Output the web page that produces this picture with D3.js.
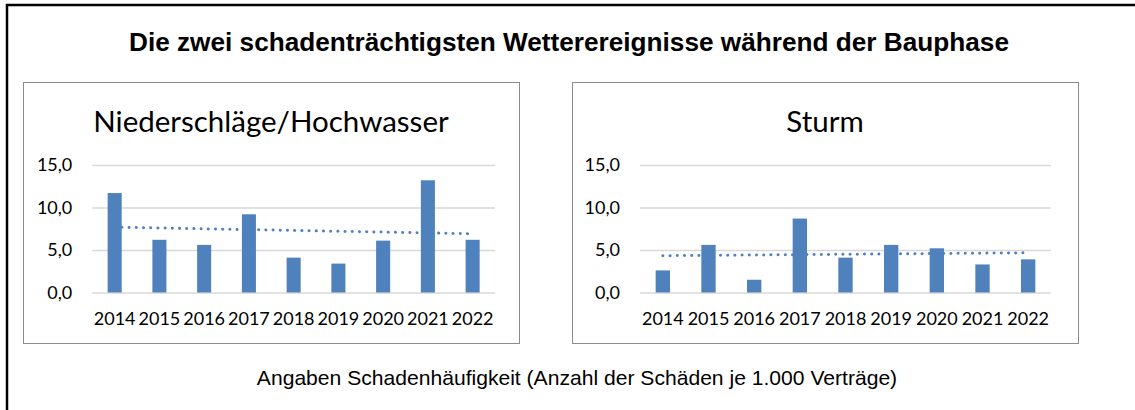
<!DOCTYPE html>
<html>
<head>
<meta charset="utf-8">
<script src="https://cdn.jsdelivr.net/npm/d3@7"></script>
<style>
	body { margin: 0; background: #fff; }
	svg { display: block; }
</style>
</head>
<body>
<svg id="mainsvg" width="1135" height="410"></svg>
<script>
var years = ['2014', '2015', '2016', '2017', '2018', '2019', '2020', '2021', '2022'];
var niederschlag = [11.7, 6.2, 5.6, 9.2, 4.1, 3.4, 6.1, 13.2, 6.2];
var sturm = [2.6, 5.6, 1.5, 8.7, 4.1, 5.6, 5.2, 3.3, 3.9];
var yTicks = [0, 5, 10, 15];

var mainTitle = 'Die zwei schadenträchtigsten Wetterereignisse während der Bauphase';
var footNote = 'Angaben Schadenhäufigkeit (Anzahl der Schäden je 1.000 Verträge)';

var blue = '#4f81bd';
var svg = d3.select('#mainsvg');

// outer frame, right/bottom edge run off the picture
svg.append('rect')
	.attr('x', 7).attr('y', 5)
	.attr('width', 1200).attr('height', 500)
	.attr('fill', 'none')
	.attr('stroke', '#000')
	.attr('stroke-width', 2.5);

svg.append('text')
	.attr('x', 569).attr('y', 51)
	.attr('text-anchor', 'middle')
	.attr('font-family', 'Liberation Sans, Arial, sans-serif')
	.attr('font-weight', 'bold')
	.attr('font-size', 26.2)
	.text(mainTitle);

svg.append('text')
	.attr('x', 577).attr('y', 385)
	.attr('text-anchor', 'middle')
	.attr('font-family', 'Liberation Sans, Arial, sans-serif')
	.attr('font-size', 21.1)
	.text(footNote);

function Panel(box, plot, title, values) {
	this.box = box;
	this.plot = plot;
	this.title = title;
	this.values = values;
	this.layer = svg.append('g');
}

Panel.prototype.trend = function() {
	var n = this.values.length;
	var mx = (n - 1) / 2, my = d3.mean(this.values);
	var sxy = 0, sxx = 0;
	this.values.forEach(function(v, i) {
		sxy += (i - mx) * (v - my);
		sxx += (i - mx) * (i - mx);
	});
	var k = sxy / sxx;
	return [[0, my - k * mx], [n - 1, my + k * (n - 1 - mx)]];
}

Panel.prototype.Render = function() {
	var _this = this;
	var b = this.box, p = this.plot;

	this.layer.append('rect')
		.attr('x', b.x + 0.5).attr('y', b.y + 0.5)
		.attr('width', b.w).attr('height', b.h)
		.attr('fill', '#fff')
		.attr('stroke', '#8c8c8c')
		.attr('stroke-width', 1);

	this.layer.append('text')
		.attr('x', b.x + b.w / 2).attr('y', 132)
		.attr('text-anchor', 'middle')
		.attr('font-family', 'Lato, Carlito, sans-serif')
		.attr('font-size', 29.5)
		.attr('fill', '#000')
		.text(this.title);

	var x = d3.scaleBand().domain(years).range([p.x0, p.x1])
		.paddingInner(0.686).paddingOuter(0.343);
	var y = d3.scaleLinear().domain([0, 15]).range([292.5, 165]);

	var yAxis = d3.axisLeft(y).tickValues(yTicks)
		.tickSize(-(p.x1 - p.x0)).tickPadding(20)
		.tickFormat(function(d) { return d3.format('.1f')(d).replace('.', ','); });
	var gy = this.layer.append('g')
		.attr('transform', 'translate(' + p.x0 + ',0)')
		.call(yAxis);
	gy.select('.domain').remove();
	gy.selectAll('.tick line').attr('stroke', '#d9d9d9').attr('stroke-width', 1.5);
	gy.selectAll('.tick text')
		.attr('font-family', 'Lato, Carlito, sans-serif')
		.attr('font-size', 18)
		.attr('fill', '#000');

	var xAxis = d3.axisBottom(x).tickSize(0).tickPadding(20);
	var gx = this.layer.append('g')
		.attr('transform', 'translate(0,292.5)')
		.call(xAxis);
	gx.select('.domain').remove();
	gx.selectAll('.tick text')
		.attr('font-family', 'Lato, Carlito, sans-serif')
		.attr('font-size', 18)
		.attr('fill', '#000');

	// trendline sits behind the bars
	var tr = this.trend();
	var line = d3.line()
		.x(function(d) { return x(years[d[0]]) + x.bandwidth() / 2; })
		.y(function(d) { return y(d[1]); });
	this.layer.append('path')
		.attr('d', line(tr))
		.attr('fill', 'none')
		.attr('stroke', blue)
		.attr('stroke-width', 3)
		.attr('stroke-linecap', 'round')
		.attr('stroke-dasharray', '0.1 7.1');

	this.layer.selectAll('rect.bar')
		.data(this.values)
		.enter()
		.append('rect')
		.attr('class', 'bar')
		.attr('x', function(d, i) { return x(years[i]); })
		.attr('y', function(d) { return y(d); })
		.attr('width', x.bandwidth())
		.attr('height', function(d) { return y(0) - y(d); })
		.attr('fill', blue);
}

new Panel({x: 23, y: 82, w: 496, h: 261}, {x0: 92.3, x1: 495}, 'Niederschläge/Hochwasser', niederschlag).Render();
new Panel({x: 572, y: 82, w: 506, h: 261}, {x0: 640, x1: 1051}, 'Sturm', sturm).Render();
</script>
</body>
</html>
